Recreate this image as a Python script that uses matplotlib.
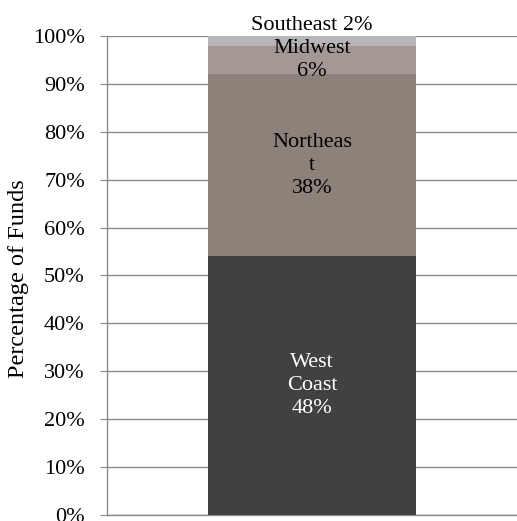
import matplotlib
matplotlib.use("Agg")
import matplotlib.pyplot as plt
from matplotlib.ticker import PercentFormatter

plt.rcParams['font.family'] = ['Liberation Serif', 'DejaVu Serif']

regions = ["West Coast", "Northeast", "Midwest", "Southeast"]
values = [54, 38, 6, 2]
label_texts = ["West\nCoast\n48%", "Northeas\nt\n38%", "Midwest\n6%", "Southeast 2%"]
colors = ["#414042", "#8d8279", "#a49894", "#b6b6ba"]
text_colors = ["white", "black", "black", "black"]
yticks = [0, 10, 20, 30, 40, 50, 60, 70, 80, 90, 100]

FS = 16

fig = plt.figure(figsize=(5.17, 5.21), dpi=100)
ax = fig.add_axes([0.207, 0.0115, 0.793, 0.9195])

grid_c = "#8c8c8c"
bottom = 0
for i, (r, v, c) in enumerate(zip(regions, values, colors)):
    ax.bar(0, v, bottom=bottom, width=0.505, color=c, zorder=3)
    if r == "Southeast":
        ax.annotate(label_texts[i], (0, bottom + v), xytext=(0, 4), textcoords="offset points",
                    ha="center", va="baseline", fontsize=FS, color=text_colors[i], zorder=4,
                    annotation_clip=False)
    else:
        ax.text(0, bottom + v / 2, label_texts[i], ha="center", va="center", fontsize=FS,
                color=text_colors[i], linespacing=1.27, zorder=4)
    bottom += v

ax.set_xlim(-0.5, 0.5)
ax.set_ylim(0, 100)
ax.set_yticks(yticks)
ax.yaxis.set_major_formatter(PercentFormatter(decimals=0))
ax.set_xticks([])
ax.grid(axis="y", color=grid_c, linewidth=1.0, zorder=0)
for s in ["top", "right"]:
    ax.spines[s].set_visible(False)
for s in ["left", "bottom"]:
    ax.spines[s].set_color(grid_c)
    ax.spines[s].set_linewidth(1.0)
ax.tick_params(axis="y", direction="out", length=5, color=grid_c, labelsize=FS, pad=11)
ax.set_ylabel("Percentage of Funds", fontsize=17.5)
ax.yaxis.set_label_coords(-0.19, 0.493)

fig.savefig("out.png", dpi=100)
